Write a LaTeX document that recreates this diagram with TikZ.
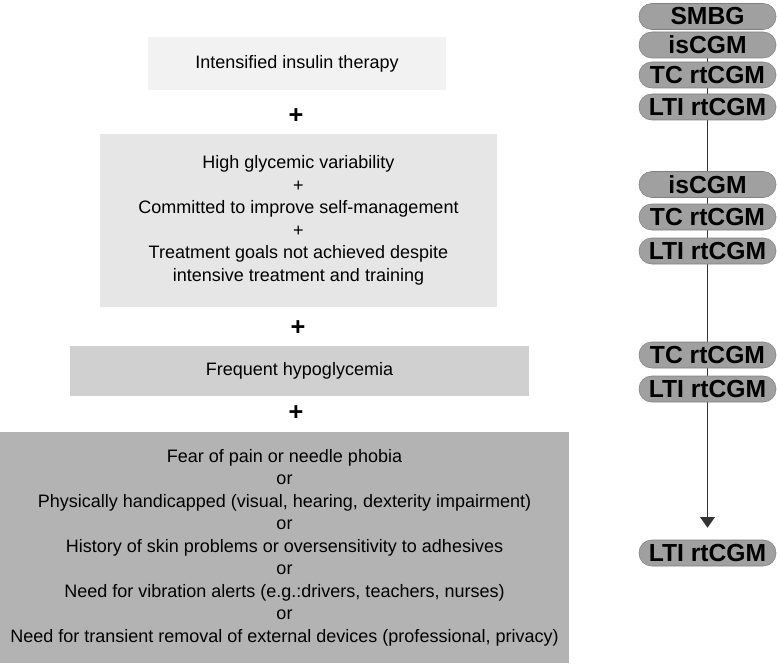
\documentclass[tikz,border=0pt]{standalone}
\usepackage{fontspec}
\setmainfont{Liberation Sans}
\usetikzlibrary{arrows.meta,backgrounds}
\definecolor{boxA}{HTML}{F2F2F2}
\definecolor{boxB}{HTML}{E6E6E6}
\definecolor{boxC}{HTML}{D0D0D0}
\definecolor{boxD}{HTML}{B3B3B3}
\definecolor{pillfill}{HTML}{A0A0A0}
\definecolor{pillline}{HTML}{808080}
\begin{document}
\begin{tikzpicture}[x=0.75pt,y=-0.75pt,
    crit/.style={inner sep=0pt,align=center,font=\fontsize{13.5}{16.9}\selectfont},
    plus/.style={font=\fontsize{19}{19}\selectfont\bfseries},
    pill/.style={draw=pillline,fill=pillfill,rounded corners=9.5pt,minimum width=102.75pt,
        minimum height=19.5pt,inner sep=0pt,font=\fontsize{18.5}{18.5}\selectfont\bfseries}]
    \useasboundingbox (0,0) rectangle (777,663);

    % Kriterien links
    \node[crit,fill=boxA,minimum width=223.5pt,minimum height=39.75pt] (b1) at (297,63.5)
        {Intensified insulin therapy};
    \node[plus] (p1) at (296,116) {+};
    \node[crit,fill=boxB,minimum width=297.75pt,minimum height=129.75pt] (b2) at (298.5,220.5)
        {High glycemic variability\\+\\Committed to improve self-management\\+\\
         Treatment goals not achieved despite\\intensive treatment and training};
    \node[plus] (p2) at (298,328) {+};
    \node[crit,fill=boxC,minimum width=344.25pt,minimum height=37.5pt] (b3) at (299.5,371)
        {Frequent hypoglycemia};
    \node[plus] (p3) at (296,413) {+};
    \node[crit,fill=boxD,minimum width=426.75pt,minimum height=173.25pt] (b4) at (284.5,547.5)
        {Fear of pain or needle phobia\\or\\
         Physically handicapped (visual, hearing, dexterity impairment)\\or\\
         History of skin problems or oversensitivity to adhesives\\or\\
         Need for vibration alerts (e.g.:drivers, teachers, nurses)\\or\\
         Need for transient removal of external devices (professional, privacy)};

    % Systeme rechts
    \node[pill] (s1) at (707.5,16.5) {SMBG};
    \node[pill] (s2) at (707.5,45) {isCGM};
    \node[pill] (s3) at (707.5,75) {TC rtCGM};
    \node[pill] (s4) at (707.5,107) {LTI rtCGM};

    \node[pill] (s5) at (707.5,184.5) {isCGM};
    \node[pill] (s6) at (707.5,217) {TC rtCGM};
    \node[pill] (s7) at (707.5,251) {LTI rtCGM};

    \node[pill] (s8) at (707.5,355) {TC rtCGM};
    \node[pill] (s9) at (707.5,389) {LTI rtCGM};

    \node[pill] (s10) at (707.5,553) {LTI rtCGM};

    % Pfeil
    \begin{scope}[on background layer]
        \draw[black!80,line width=1pt,-{Triangle[width=11pt,length=8pt]},shorten >=9pt]
            (s2.south) -- (s10.north);
    \end{scope}
\end{tikzpicture}
\end{document}
